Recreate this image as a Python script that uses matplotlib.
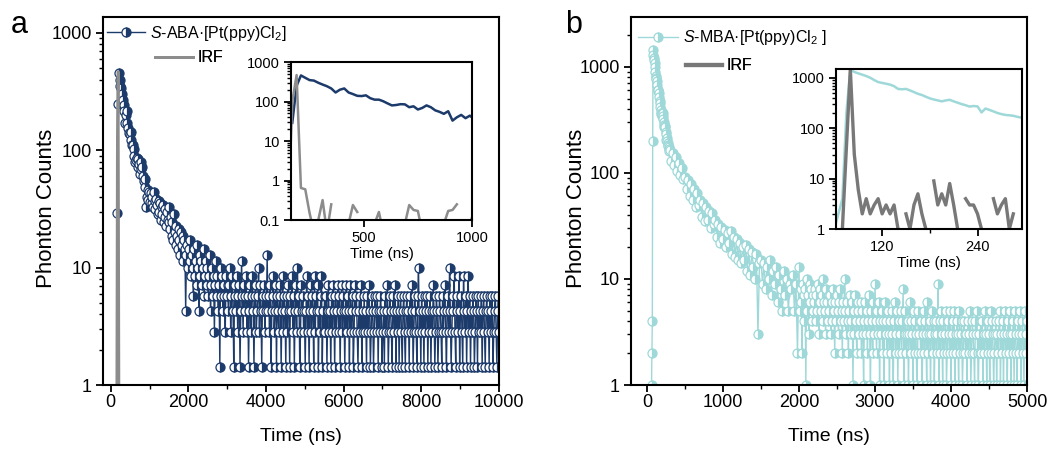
import matplotlib
matplotlib.use("Agg")
import matplotlib.pyplot as plt
import numpy as np
from matplotlib.lines import Line2D
from matplotlib.ticker import FuncFormatter, LogLocator, MultipleLocator, NullFormatter

plt.rcParams["font.family"] = ["Liberation Sans", "DejaVu Sans"]
plt.rcParams["mathtext.fontset"] = "custom"
plt.rcParams["mathtext.rm"] = "Liberation Sans"
plt.rcParams["mathtext.it"] = "Liberation Sans:italic"

# ---- panel a: S-ABA.[Pt(ppy)Cl2] ----
# early part (also shown in the inset), 20 ns channels starting at 150 ns
a_head_start, a_head_step = 150, 20
aba_head = [0, 29, 250, 460, 400, 350, 340, 300, 270, 245,
            215, 170, 200, 215, 170, 155, 140, 138, 144, 122,
            112, 112, 102, 90, 80, 82, 86, 85, 72, 76,
            63, 69, 80, 72, 60, 55, 49, 57, 33, 40,
            46, 38, 44, 36]
irf_a = [0.1, 100, 470, 0.65, 0.6, 0.15, 0.05, 0.1, 0.32, 0.05,
         0.25, 0, 0, 0, 0.08, 0.24, 0.16, 0, 0, 0,
         0.08, 0.16, 0.05, 0, 0, 0, 0, 0.08, 0.24, 0.18,
         0.17, 0.05, 0, 0, 0, 0, 0.08, 0.17, 0.18, 0.25,
         0, 0, 0.08, 0.17]
# tail from 1030 ns, 20 ns channels, raw counts (figure shows counts / 0.7)
a_tail_start, a_tail_step = 1030, 20
aba_tail_counts = [
    30, 25, 28, 23, 31, 26, 22, 27, 24, 20, 26, 21, 25, 18, 23, 20, 24, 17, 22, 19, 16, 21, 18, 23, 17,
    15, 19, 13, 17, 12, 20, 14, 11, 16, 13, 10, 15, 12, 9, 14, 11, 13, 8, 12, 10, 3, 9, 11, 7, 10,
    8, 12, 6, 9, 7, 4, 10, 6, 8, 5, 11, 7, 3, 9, 6, 8, 5, 7, 10, 4, 6, 8, 5, 7, 4,
    6, 9, 3, 5, 7, 4, 6, 2, 5, 8, 4, 6, 3, 5, 1, 7, 4, 6, 3, 5, 4, 2, 6, 4, 5,
    3, 5, 7, 2, 4, 6, 3, 1, 5, 4, 3, 6, 2, 4, 5, 1, 3, 8, 4, 2, 5, 3, 4, 6, 2,
    4, 1, 3, 5, 2, 4, 6, 3, 1, 4, 5, 2, 3, 4, 7, 2, 5, 3, 1, 4, 3, 5, 2, 4, 3,
    9, 3, 4, 2, 5, 1, 3, 4, 6, 2, 3, 5, 1, 4, 3, 2, 5, 4, 1, 3, 6, 2, 4, 3, 1,
    4, 2, 5, 3, 1, 4, 3, 6, 2, 4, 1, 3, 5, 2, 7, 3, 4, 1, 2, 5, 3, 4, 2, 3, 1,
    3, 6, 2, 4, 1, 3, 5, 2, 4, 3, 1, 6, 2, 4, 3, 5, 1, 3, 2, 4, 6, 1, 3, 2, 4,
    2, 4, 1, 3, 5, 2, 3, 1, 4, 2, 5, 3, 1, 4, 2, 3, 5, 2, 4, 1, 3, 5, 2, 4, 3,
    1, 3, 5, 2, 4, 3, 1, 5, 2, 3, 4, 1, 2, 5, 3, 4, 2, 1, 3, 4, 2, 5, 1, 3, 2,
    4, 2, 3, 1, 4, 2, 5, 3, 1, 2, 4, 3, 1, 2, 4, 3, 2, 4, 1, 3, 2, 4, 3, 1, 2,
    3, 1, 4, 2, 3, 5, 1, 2, 4, 3, 2, 1, 4, 3, 2, 5, 1, 3, 2, 4, 1, 3, 4, 2, 1,
    3, 4, 2, 1, 3, 4, 2, 3, 1, 4, 2, 3, 5, 1, 2, 4, 3, 2, 1, 4, 7, 2, 3, 1, 4,
    2, 3, 1, 4, 2, 3, 4, 1, 3, 2, 4, 1, 3, 2, 5, 3, 1, 2, 4, 3, 1, 2, 4, 3, 2,
    1, 4, 2, 3, 5, 2, 1, 3, 4, 2, 7, 3, 1, 2, 4, 3, 6, 2, 1, 4, 3, 2, 6, 1, 3,
    4, 2, 1, 6, 3, 2, 4, 1, 3, 6, 2, 4, 1, 3, 2, 4, 3, 1, 2, 4, 3, 1, 4, 2, 3,
    2, 4, 1, 3, 4, 2, 1, 3, 4, 2, 3, 1, 4, 2, 3, 4, 1, 2, 3, 4, 2, 1, 3, 4, 2]
tail_scale_a = 0.7

# ---- panel b: S-MBA.[Pt(ppy)Cl2] ----
b_head_start, b_head_step = 60, 5
mba_head = [1, 2, 4, 200, 1450, 1300, 1220, 1150, 1080, 1000,
            900, 820, 790, 760, 730, 680, 600, 590, 600, 560,
            520, 480, 455, 420, 390, 370, 355, 340, 355, 365,
            340, 320, 300, 285, 268, 275, 270, 205, 245, 230,
            215, 200, 190, 183, 180, 176, 168, 162]
irf_b = [0, 0, 1, 40, 1470, 30, 6, 2, 4, 2,
         3, 4, 2, 3, 2, 3, 1, 0, 2, 1,
         3, 5, 2, 1, 0, 9, 3, 5, 3, 8,
         3, 1, 0, 4, 3, 3, 2, 1, 0, 0,
         4, 2, 3, 4, 1, 2, 0, 0]
b_mid_start, b_mid_step = 300, 20
mba_mid = [165, 130, 155, 118, 140, 105, 125, 95, 112, 88,
           92, 70, 86, 60, 78, 55, 70, 48, 64, 50,
           55, 38, 52, 35, 48, 36, 44, 30, 42, 33,
           36, 25, 33, 22, 31, 24, 29, 20, 27, 22,
           28, 17, 25, 16, 24, 15, 22, 14, 20, 15,
           21, 12, 19, 11, 18, 13, 10, 17, 3, 14,
           15, 9, 14, 8, 13, 10, 15, 7, 12, 9,
           13, 6, 11, 8, 5, 12, 7, 10, 5, 9,
           8, 11, 5, 9, 2]
b_tail_start, b_tail_step = 2000, 10
mba_tail = [
    13, 5, 8, 6, 2, 9, 7, 4, 8, 1, 10, 5, 7, 3, 9, 6, 8, 4, 7, 5,
    6, 8, 4, 7, 5, 9, 3, 6, 8, 5, 7, 4, 10, 6, 5, 3, 8, 6, 4, 7,
    5, 7, 3, 6, 4, 8, 5, 2, 6, 4, 7, 5, 3, 6, 8, 4, 5, 2, 6, 4,
    10, 5, 3, 6, 4, 2, 5, 7, 3, 4, 6, 1, 5, 3, 7, 4, 2, 5, 6, 3,
    4, 6, 2, 5, 3, 1, 4, 6, 3, 5, 2, 4, 7, 3, 1, 5, 4, 2, 6, 3,
    9, 4, 2, 5, 3, 6, 1, 4, 3, 5, 2, 4, 1, 6, 3, 4, 2, 5, 3, 1,
    4, 2, 5, 3, 1, 4, 6, 2, 3, 5, 1, 4, 2, 3, 5, 2, 4, 8, 1, 3,
    5, 2, 3, 4, 1, 3, 6, 2, 4, 3, 1, 5, 2, 4, 3, 1, 2, 5, 3, 4,
    2, 4, 1, 3, 5, 2, 4, 3, 1, 6, 2, 3, 4, 1, 3, 5, 2, 4, 1, 3,
    4, 2, 3, 9, 1, 4, 2, 5, 3, 1, 4, 2, 3, 5, 1, 2, 4, 3, 2, 5,
    1, 3, 4, 2, 5, 1, 3, 2, 4, 3, 1, 5, 2, 3, 4, 1, 2, 4, 3, 2,
    3, 1, 4, 2, 3, 5, 1, 2, 4, 3, 2, 1, 4, 3, 5, 2, 1, 3, 2, 4,
    2, 4, 1, 3, 2, 5, 3, 1, 4, 2, 3, 1, 5, 2, 4, 3, 1, 2, 3, 4,
    1, 3, 2, 4, 5, 1, 3, 2, 4, 1, 3, 5, 2, 3, 1, 4, 2, 3, 5, 1,
    3, 2, 4, 1, 5, 3, 2, 1, 4, 3, 2, 5, 1, 3, 4, 2, 1, 5, 3, 2,
    4]

label_a = r"$\it{S}$-ABA·[Pt(ppy)Cl$_2$]"
label_b = r"$\it{S}$-MBA·[Pt(ppy)Cl$_2$ ]"
navy = "#1c3a6a"
cyan = "#9fd8d8"
gray_a = "#8c8c8c"
gray_b = "#787878"


def times(start, step, values):
    return start + step * np.arange(len(values))


def pos(v):
    v = np.asarray(v, dtype=float)
    return np.where(v > 0, v, np.nan)


fmt = FuncFormatter(lambda v, p: f"{v:g}")


def style_log(ax, fs, xpad=3):
    ax.set_yscale("log")
    ax.yaxis.set_major_locator(LogLocator(base=10))
    ax.yaxis.set_minor_locator(LogLocator(base=10, subs=np.arange(2, 10)))
    ax.yaxis.set_major_formatter(fmt)
    ax.yaxis.set_minor_formatter(NullFormatter())
    ax.tick_params(which="major", direction="out", length=5, width=1.3, labelsize=fs, pad=3)
    ax.tick_params(axis="x", which="major", pad=xpad)
    ax.tick_params(which="minor", direction="out", length=3, width=1)
    for s in ax.spines.values():
        s.set_linewidth(1.5)


def add_legend(ax, handle, text, x, y, hl):
    leg = ax.legend([handle], [text], loc="center left", bbox_to_anchor=(x, y),
                    frameon=False, fontsize=11.5, handlelength=hl, handletextpad=0.3,
                    borderpad=0, borderaxespad=0)
    ax.add_artist(leg)


mk = dict(marker="o", markersize=6.5, fillstyle="right", markeredgewidth=0.9)

fig = plt.figure(figsize=(10.6, 4.5), dpi=100)

# ================= panel a =================
ax = fig.add_axes([0.097, 0.1444, 0.3736, 0.818])
t_a_head = times(a_head_start, a_head_step, aba_head)
t_a_tail = times(a_tail_start, a_tail_step, aba_tail_counts)
t_a = np.concatenate([t_a_head, t_a_tail])
aba = np.concatenate([np.asarray(aba_head, float),
                      np.asarray(aba_tail_counts, float) / tail_scale_a])
ha, = ax.plot(t_a, pos(aba), "-", color=navy, lw=1, markerfacecolor=navy,
              markerfacecoloralt="white", markeredgecolor=navy, **mk)
hi, = ax.plot(times(a_head_start, a_head_step, irf_a), pos(irf_a), "-", color=gray_a, lw=2)
style_log(ax, 13, xpad=1.5)
ax.set_xlim(-205, 10000)
ax.set_ylim(1, 1370)
ax.xaxis.set_major_locator(MultipleLocator(2000))
ax.xaxis.set_minor_locator(MultipleLocator(1000))
ax.set_xlabel("Time (ns)", fontsize=14, labelpad=12)
ax.set_ylabel("Phonton Counts", fontsize=16)
ax.yaxis.set_label_coords(-0.116, 0.48)
add_legend(ax, ha, label_a, 0.010, 0.956, 2.4)
add_legend(ax, hi, "IRF", 0.131, 0.889, 2.4)

ins = fig.add_axes([0.2745, 0.511, 0.1708, 0.351])
ins.plot(t_a_head, pos(aba_head), "-", color=navy, lw=1.8)
ins.plot(times(a_head_start, a_head_step, irf_a), pos(irf_a), "-", color=gray_a, lw=1.8)
style_log(ins, 10.5)
ins.set_xlim(164, 1000)
ins.set_ylim(0.1, 1000)
ins.set_xticks([500, 1000])
ins.set_xlabel("Time (ns)", fontsize=11, labelpad=1)

fig.text(0.010, 0.927, "a", fontsize=22)

# ================= panel b =================
bx = fig.add_axes([0.5953, 0.1444, 0.3736, 0.818])
t_b_head = times(b_head_start, b_head_step, mba_head)
t_b = np.concatenate([t_b_head,
                      times(b_mid_start, b_mid_step, mba_mid),
                      times(b_tail_start, b_tail_step, mba_tail)])
mba = np.concatenate([np.asarray(mba_head, float), np.asarray(mba_mid, float),
                      np.asarray(mba_tail, float)])
hb, = bx.plot(t_b, pos(mba), "-", color=cyan, lw=1, markerfacecolor=cyan,
              markerfacecoloralt="white", markeredgecolor=cyan, **mk)
hib = Line2D([], [], color=gray_b, lw=3)
style_log(bx, 13, xpad=1.5)
bx.set_xlim(-210, 5000)
bx.set_ylim(1, 2950)
bx.xaxis.set_major_locator(MultipleLocator(1000))
bx.xaxis.set_minor_locator(MultipleLocator(500))
bx.set_xlabel("Time (ns)", fontsize=14, labelpad=12)
bx.set_ylabel("Phonton Counts", fontsize=16)
bx.yaxis.set_label_coords(-0.111, 0.48)
add_legend(bx, hb, label_b, 0.018, 0.943, 2.5)
add_legend(bx, hib, "IRF", 0.139, 0.867, 2.25)

insb = fig.add_axes([0.7887, 0.491, 0.1755, 0.356])
insb.plot(t_b_head, pos(mba_head), "-", color=cyan, lw=1.8)
insb.plot(t_b_head, pos(irf_b), "-", color=gray_b, lw=2.4)
style_log(insb, 10.5)
insb.set_xlim(62, 296)
insb.set_ylim(1, 1500)
insb.set_xticks([120, 240])
insb.xaxis.set_minor_locator(MultipleLocator(60))
insb.set_xlabel("Time (ns)", fontsize=11, labelpad=1)

fig.text(0.533, 0.927, "b", fontsize=22)

fig.savefig("out.png", dpi=100)
